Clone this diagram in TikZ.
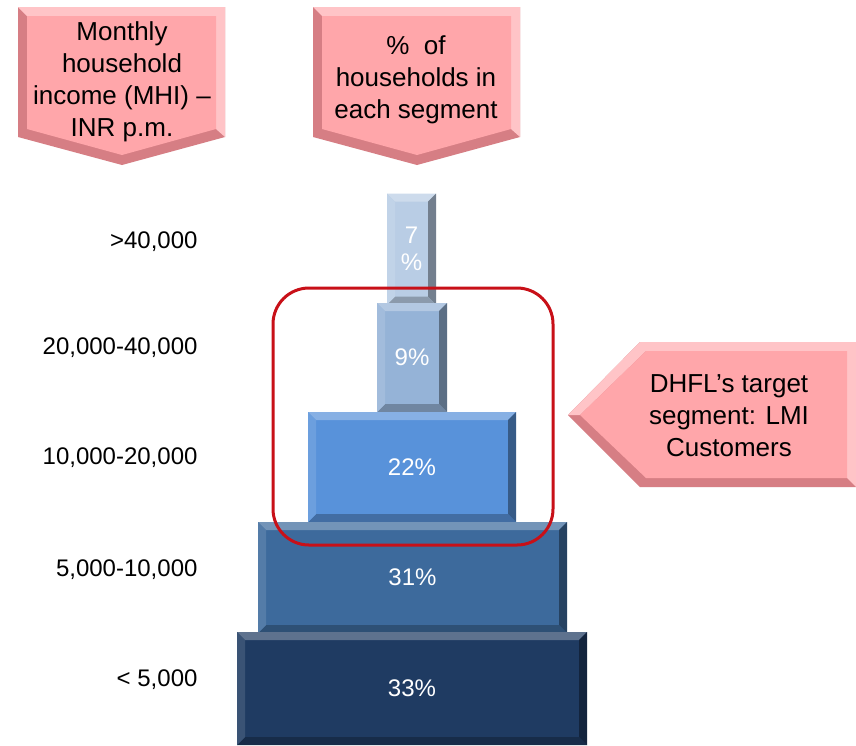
\documentclass[tikz,border=0pt]{standalone}
\usepackage{fontspec}
\setmainfont{Liberation Sans}
\usetikzlibrary{calc}

\definecolor{calloutpink}{RGB}{255,166,170}
\definecolor{calloutdark}{RGB}{214,126,132}
\definecolor{calloutlight}{RGB}{255,196,199}
\definecolor{tierA}{RGB}{185,205,229}
\definecolor{tierB}{RGB}{149,179,215}
\definecolor{tierC}{RGB}{88,146,218}
\definecolor{tierD}{RGB}{61,106,156}
\definecolor{tierE}{RGB}{31,59,98}
\definecolor{targetred}{RGB}{200,16,24}

\begin{document}
\begin{tikzpicture}[x=1pt,y=-1pt,
      every node/.append style={font=\fontsize{24}{27}\selectfont},
      income/.style={anchor=east,text=black},
      calloutText/.style={align=center,font=\fontsize{26}{32}\selectfont},
      tier/.style n args={3}{fill=#1,minimum width=#2,minimum height=#3,inner sep=0pt,
        text=white,align=center,
        path picture={
          \coordinate (tnw) at (path picture bounding box.north west);
          \coordinate (tne) at (path picture bounding box.north east);
          \coordinate (tsw) at (path picture bounding box.south west);
          \coordinate (tse) at (path picture bounding box.south east);
          \fill[#1!72!white] (tnw) -- (tne) -- ($(tne)+(-8pt,-8pt)$) -- ($(tnw)+(8pt,-8pt)$) -- cycle;
          \fill[#1!62!black] (tne) -- (tse) -- ($(tse)+(-8pt,8pt)$) -- ($(tne)+(-8pt,-8pt)$) -- cycle;
          \fill[#1!75!black] (tsw) -- (tse) -- ($(tse)+(-8pt,8pt)$) -- ($(tsw)+(8pt,8pt)$) -- cycle;
          \fill[#1!88!white] (tnw) -- (tsw) -- ($(tsw)+(8pt,8pt)$) -- ($(tnw)+(8pt,-8pt)$) -- cycle;
        }}]
    \fill[white] (0,0) rectangle (856,745);
    \useasboundingbox (0,0) rectangle (856,745);

    % header callouts
    \fill[calloutdark] (18,7) -- (225,7) -- (225,137) -- (122,165) -- (18,137) -- cycle;
    \fill[calloutlight] (18,7) -- (225,7) -- (225,137) -- (216,129) -- (216,16) -- (27,16) -- cycle;
    \fill[calloutpink] (27,16) -- (216,16) -- (216,129) -- (122,155) -- (27,129) -- cycle;
    \node (mhiHead) [calloutText] at (122,82) {Monthly\\household\\income (MHI) –\\INR p.m.};

    \fill[calloutdark] (313,7) -- (520,7) -- (520,137) -- (417,165) -- (313,137) -- cycle;
    \fill[calloutlight] (313,7) -- (520,7) -- (520,137) -- (511,129) -- (511,16) -- (322,16) -- cycle;
    \fill[calloutpink] (322,16) -- (511,16) -- (511,129) -- (417,155) -- (322,129) -- cycle;
    \node (shareHead) [calloutText] at (416,80) {\%\ \ of\\households in\\each segment};

    % income bands
    \node (band1) [income] at (201,242) {>40,000};
    \node (band2) [income] at (201,348) {20,000-40,000};
    \node (band3) [income] at (201,458) {10,000-20,000};
    \node (band4) [income] at (201,570) {5,000-10,000};
    \node (band5) [income] at (201,680) {< 5,000};

    % pyramid
    \node (tier1) [tier={tierA}{49pt}{111pt}] at (411.5,249) {7\\\%};
    \node (tier2) [tier={tierB}{70pt}{109pt}] at (412,357.5) {9\%};
    \node (tier3) [tier={tierC}{208pt}{110pt}] at (412,467) {22\%};
    \node (tier4) [tier={tierD}{309pt}{111pt}] at (412.5,577.5) {31\%};
    \node (tier5) [tier={tierE}{350pt}{113pt}] at (412,688.5) {33\%};

    \node (target) [draw=targetred,line width=3pt,rounded corners=36pt,
      minimum width=280pt,minimum height=257pt] at (413,416.5) {};

    % target note
    \fill[calloutdark] (568,415) -- (640,342) -- (856,342) -- (856,487) -- (640,487) -- cycle;
    \fill[calloutlight] (568,415) -- (640,342) -- (856,342) -- (856,487) -- (847,478) -- (847,351) -- (646,351) -- (580,415) -- cycle;
    \fill[calloutpink] (580,415) -- (646,351) -- (847,351) -- (847,478) -- (646,478) -- cycle;
    \node (targetNote) [calloutText] at (729,416) {DHFL’s target\\segment: LMI\\Customers};
\end{tikzpicture}
\end{document}
